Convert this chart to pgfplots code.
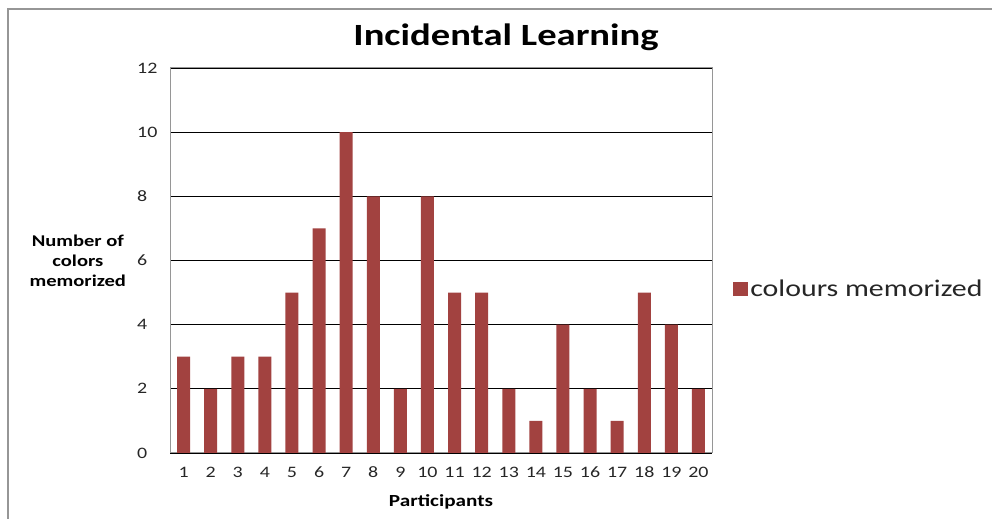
\documentclass[border=0pt]{standalone}
\usepackage{pgfplots}
\pgfplotsset{compat=1.18}
\usepackage{fontspec}
\setmainfont[FakeStretch=1.25]{Carlito}
\definecolor{barred}{RGB}{162,66,64}
\definecolor{frame}{RGB}{150,150,150}
\begin{document}
\begin{tikzpicture}[x=1bp,y=1bp]
\useasboundingbox (0,0) rectangle (992,519);
\draw[frame,line width=1.5bp] (8,0) -- (8,510) -- (992,510);
\begin{axis}[
  at={(170bp,66bp)}, anchor=south west,
  scale only axis, width=542bp, height=385bp,
  xmin=0.5, xmax=20.5, ymin=0, ymax=12,
  xtick={1,...,20}, ytick={0,2,...,12},
  major tick length=0pt,
  axis line style={frame,line width=1bp},
  ymajorgrids, grid style={black,line width=0.8bp},
  tick label style={font=\fontsize{16}{18}\selectfont, text=black!85},
  /pgf/number format/assume math mode=true,
  xticklabel style={anchor=base, yshift=-25bp},
  yticklabel style={anchor=west, inner sep=0pt, xshift=-33bp},
  title={\textbf{Incidental Learning}},
  title style={font=\fontsize{31}{34}\selectfont, at={(axis description cs:0.62,1)}, anchor=base, yshift=17bp},
  xlabel={\textbf{Participants}},
  xlabel style={font=\fontsize{17}{19}\selectfont, at={(axis description cs:0.5,0)}, anchor=base, yshift=-54bp},
  ylabel={\textbf{Number of}\\\textbf{colors}\\\textbf{memorized}},
  ylabel style={font=\fontsize{16.5}{20}\selectfont, rotate=-90, align=center, at={(axis description cs:-0.17,0.5)}, anchor=center},
  legend style={draw=none, at={(axis description cs:1.039,0.426)}, anchor=west, font=\fontsize{24}{26}\selectfont, inner sep=0pt, text=black!85},
  legend image code/.code={\fill[barred] (0bp,-7bp) rectangle (15bp,7bp);},
  legend cell align=left,
]
\addplot[ybar, bar width=13bp, fill=barred, draw=none] coordinates {
(1,3) (2,2) (3,3) (4,3) (5,5) (6,7) (7,10) (8,8) (9,2) (10,8)
(11,5) (12,5) (13,2) (14,1) (15,4) (16,2) (17,1) (18,5) (19,4) (20,2)
};
\addlegendentry{colours memorized}
\end{axis}
\end{tikzpicture}
\end{document}
